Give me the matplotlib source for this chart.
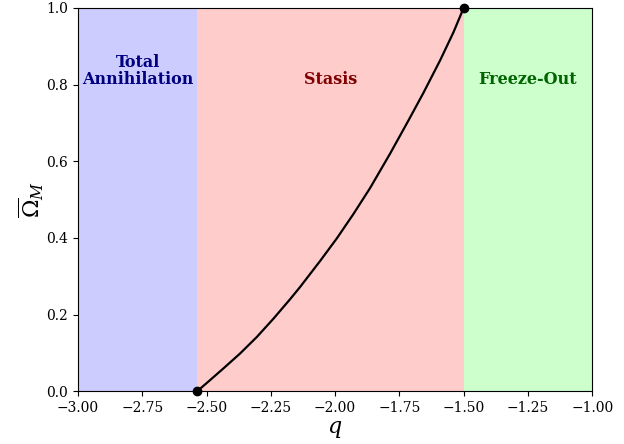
import numpy as np
from matplotlib import pyplot as plt

plt.rcParams['font.family'] = 'serif'
plt.rcParams['font.serif'] = ['DejaVu Serif']
plt.rcParams['mathtext.fontset'] = 'dejavuserif'

# region edges in q
q_min, q_ann, q_fo, q_max = -3.0, -2.536, -1.5, -1.0

# curve
q_curve = [-2.536, -2.486, -2.435, -2.370, -2.305, -2.240, -2.175, -2.136, -2.058,
           -1.993, -1.929, -1.864, -1.786, -1.715, -1.656, -1.591, -1.540, -1.500]
omega_curve = [0.0, 0.029, 0.059, 0.098, 0.141, 0.189, 0.240, 0.272, 0.340,
               0.399, 0.462, 0.530, 0.620, 0.706, 0.779, 0.864, 0.936, 1.0]

fig = plt.figure(figsize=(6.24, 4.44), dpi=100)
ax = fig.add_axes([0.125, 0.119, 0.824, 0.863])

ax.axvspan(q_min, q_ann, color='#ccccff', lw=0)
ax.axvspan(q_ann, q_fo, color='#ffcccc', lw=0)
ax.axvspan(q_fo, q_max, color='#ccffcc', lw=0)

ax.plot(q_curve, omega_curve, color='black', lw=1.6)
ax.plot([q_curve[0], q_curve[-1]], [omega_curve[0], omega_curve[-1]], 'o',
        color='black', ms=6, clip_on=False, zorder=5)

lbl = dict(ha='center', va='bottom', fontweight='bold', fontsize=11.5)
ax.text((q_min + q_ann) / 2, 0.79, 'Total\nAnnihilation', color='navy',
        linespacing=1.0, **lbl)
ax.text((q_ann + q_fo) / 2, 0.79, 'Stasis', color='#800000', **lbl)
ax.text((q_fo + q_max) / 2, 0.79, 'Freeze-Out', color='darkgreen', **lbl)

ax.set_xlim(q_min, q_max)
ax.set_ylim(0, 1)
ax.set_xlabel(r'$q$', fontsize=16, labelpad=2)
ax.set_ylabel(r'$\overline{\Omega}_M$', fontsize=16, labelpad=0)

plt.savefig('out.png', dpi=100)
